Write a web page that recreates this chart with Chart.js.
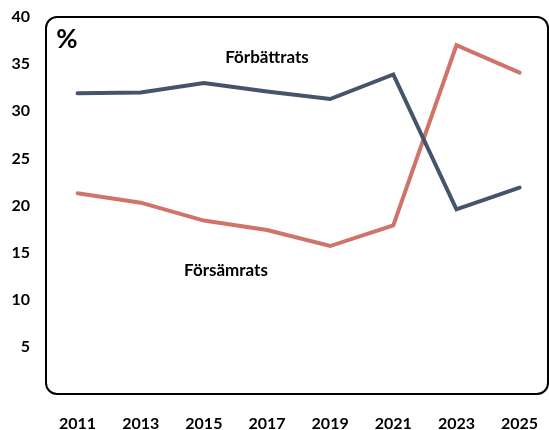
<!DOCTYPE html>
<html>
<head>
<meta charset="utf-8">
<script src="https://cdn.jsdelivr.net/npm/chart.js@4"></script>
<style>
  html, body { margin: 0; padding: 0; background: #fff; }
  #wrap { width: 549px; height: 430px; }
</style>
</head>
<body>
<div id="wrap"><canvas id="chart"></canvas></div>
<script>
// Data
const years = [2011, 2013, 2015, 2017, 2019, 2021, 2023, 2025];
const forbattrats = [31.9, 32.0, 33.0, 32.1, 31.3, 33.9, 19.6, 21.9];
const forsamrats = [21.3, 20.3, 18.4, 17.4, 15.7, 17.9, 37.0, 34.1];
const yTicks = [5, 10, 15, 20, 25, 30, 35, 40];

const FONT = 'Lato, "Open Sans", sans-serif';

// Rutan runt diagrammet + texter
const boxPlugin = {
    id: 'box',
    afterDraw(chart) {
        const { ctx, chartArea: a, scales } = chart;
        ctx.save();
        ctx.strokeStyle = '#000';
        ctx.lineWidth = 2;
        ctx.beginPath();
        ctx.roundRect(a.left, a.top, a.right - a.left, a.bottom - a.top, 11);
        ctx.stroke();

        ctx.fillStyle = '#000';
        ctx.font = 'bold 26px ' + FONT;
        ctx.textAlign = 'center';
        ctx.textBaseline = 'middle';
        ctx.fillText('%', a.left + 21, a.top + 23);

        ctx.font = 'bold 17px ' + FONT;
        ctx.fillText('Förbättrats', scales.x.getPixelForValue(2017.0), scales.y.getPixelForValue(35.7));
        ctx.fillText('Försämrats', scales.x.getPixelForValue(2015.7), scales.y.getPixelForValue(13.1));
        ctx.restore();
    }
};

const toPoints = vals => vals.map((v, i) => ({ x: years[i], y: v }));

new Chart(document.getElementById('chart'), {
    type: 'line',
    data: {
        datasets: [
            {
                label: 'Förbättrats',
                data: toPoints(forbattrats),
                borderColor: '#44546A',
                borderWidth: 4,
                borderCapStyle: 'round',
                borderJoinStyle: 'miter',
                pointRadius: 0,
                tension: 0
            },
            {
                label: 'Försämrats',
                data: toPoints(forsamrats),
                borderColor: '#D0736A',
                borderWidth: 4,
                borderCapStyle: 'round',
                borderJoinStyle: 'miter',
                pointRadius: 0,
                tension: 0
            }
        ]
    },
    options: {
        responsive: true,
        maintainAspectRatio: false,
        animation: false,
        layout: { padding: { top: 17, right: 1, left: 0, bottom: 0 } },
        plugins: {
            legend: { display: false },
            tooltip: { enabled: false }
        },
        scales: {
            x: {
                type: 'linear',
                min: 2010,
                max: 2025.9,
                grid: { display: false, drawTicks: false },
                border: { display: false },
                afterBuildTicks: s => { s.ticks = years.map(v => ({ value: v })); },
                afterFit: s => {
                    s.height = 36;
                    s.paddingLeft = 0;
                    s.paddingRight = 0;
                },
                ticks: {
                    color: '#000',
                    padding: 20,
                    font: { family: FONT, size: 16, weight: 'bold' },
                    callback: v => String(v),
                    maxRotation: 0,
                    autoSkip: false
                }
            },
            y: {
                min: 0,
                max: 40,
                grid: { display: false, drawTicks: false },
                border: { display: false },
                afterBuildTicks: s => { s.ticks = yTicks.map(v => ({ value: v })); },
                afterFit: s => {
                    s.width = 46;
                    s.paddingTop = 0;
                    s.paddingBottom = 0;
                },
                ticks: {
                    color: '#000',
                    padding: 16,
                    font: { family: FONT, size: 16, weight: 'bold' }
                }
            }
        }
    },
    plugins: [boxPlugin]
});
</script>
</body>
</html>
